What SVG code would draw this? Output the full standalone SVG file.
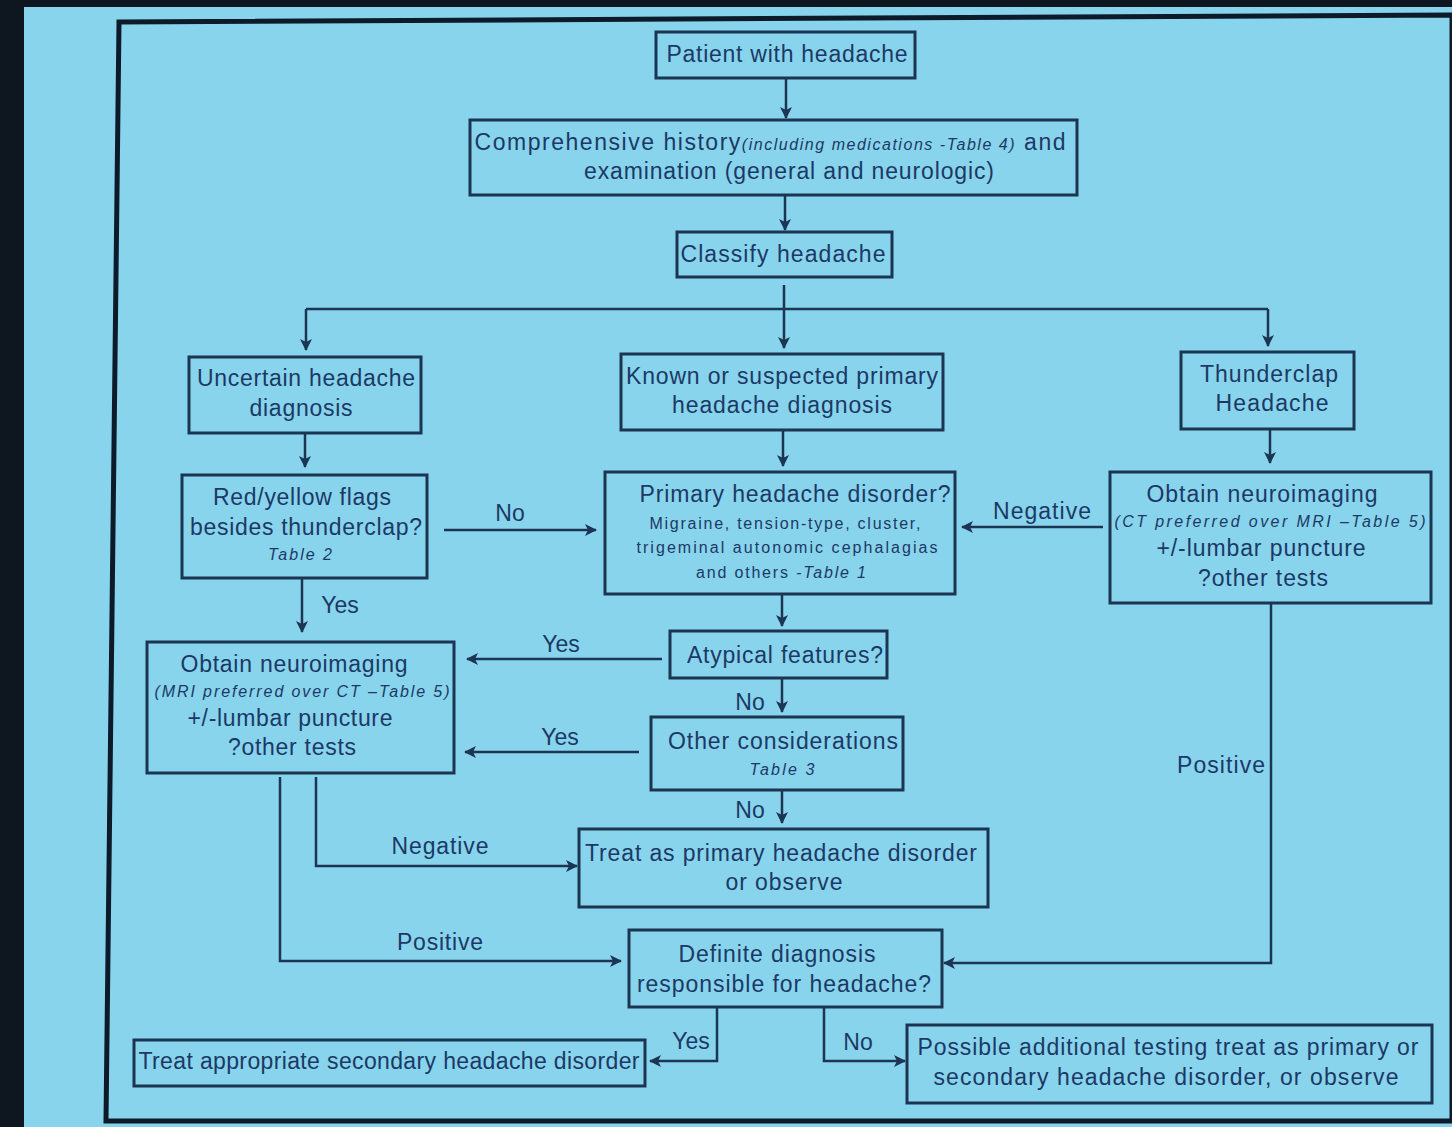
<svg xmlns="http://www.w3.org/2000/svg" width="1452" height="1127" viewBox="0 0 1452 1127">
<defs>
<style>
.bg{fill:#88d4ec}
.box{fill:none;stroke:#1b3553;stroke-width:3}
.t{font-family:"Liberation Sans",Arial,sans-serif;font-size:23px;fill:#1c3966;text-anchor:middle}
.s{font-family:"Liberation Sans",Arial,sans-serif;font-size:16px;font-style:italic;fill:#1c3966;text-anchor:middle}
.si{font-size:16px;font-style:italic}
.c{fill:none;stroke:#1b3553;stroke-width:2.5;marker-end:url(#ah)}
.l{fill:none;stroke:#1b3553;stroke-width:2.5}
</style>
<marker id="ah" viewBox="0 0 12 12" refX="11" refY="6" markerWidth="12" markerHeight="12" markerUnits="userSpaceOnUse" orient="auto">
<path d="M0,0 L12,6 L0,12 L3,6 z" fill="#1b3553"/>
</marker>
</defs>
<rect x="0" y="0" width="1452" height="1127" fill="#0e1620"/>
<rect class="bg" x="24" y="7" width="1428" height="1120"/>
<path d="M119,22 L1452,15 L1452,1121 L106,1121 Z" fill="#88d4ec" stroke="#0d1a2a" stroke-width="5"/>

<g id="connectors">
<path class="c" d="M786,78 V118"/>
<path class="c" d="M785,195 V230"/>
<path class="c" d="M784,285 V348"/>
<path class="l" d="M306,309 H1268"/>
<path class="c" d="M306,309 V350"/>
<path class="c" d="M1268,309 V346"/>
<path class="c" d="M305,433 V467"/>
<path class="c" d="M783,430 V466"/>
<path class="c" d="M1270,429 V463"/>
<path class="c" d="M444,530 H596"/>
<path class="c" d="M1103,527 H962"/>
<path class="c" d="M302,578 V632"/>
<path class="c" d="M782,594 V626"/>
<path class="c" d="M662,659 H467"/>
<path class="c" d="M782,678 V712"/>
<path class="c" d="M639,752 H465"/>
<path class="c" d="M782,790 V823"/>
<path class="c" d="M316,777 V866 H577"/>
<path class="c" d="M280,777 V961 H621"/>
<path class="c" d="M1271,603 V963 H944"/>
<path class="c" d="M717,1007 V1061 H650"/>
<path class="c" d="M824,1007 V1061 H905"/>
<text class="t" x="510" y="521">No</text>
<text class="t" x="1042" y="519" textLength="98">Negative</text>
<text class="t" x="340" y="613">Yes</text>
<text class="t" x="561" y="652">Yes</text>
<text class="t" x="750" y="710">No</text>
<text class="t" x="560" y="745">Yes</text>
<text class="t" x="750" y="818">No</text>
<text class="t" x="440" y="854" textLength="97">Negative</text>
<text class="t" x="440" y="950" textLength="86">Positive</text>
<text class="t" x="1221" y="773" textLength="88">Positive</text>
<text class="t" x="691" y="1049">Yes</text>
<text class="t" x="858" y="1050">No</text>
</g>

<g id="n1"><rect class="box" x="656" y="32" width="259" height="46"/>
<text class="t" x="787" y="62" textLength="241">Patient with headache</text></g>

<g id="n2"><rect class="box" x="470" y="120" width="607" height="75"/>
<text class="t" x="770" y="150" textLength="591">Comprehensive history<tspan class="si">(including medications -Table 4)</tspan> and</text>
<text class="t" x="789" y="179" textLength="410">examination (general and neurologic)</text></g>

<g id="n3"><rect class="box" x="677" y="232" width="215" height="45"/>
<text class="t" x="783" y="262" textLength="205">Classify  headache</text></g>

<g id="n4"><rect class="box" x="189" y="357" width="232" height="76"/>
<text class="t" x="306" y="386" textLength="218">Uncertain headache</text>
<text class="t" x="301" y="416" textLength="103">diagnosis</text></g>

<g id="n5"><rect class="box" x="621" y="354" width="322" height="76"/>
<text class="t" x="782" y="384" textLength="312">Known or suspected primary</text>
<text class="t" x="782" y="413" textLength="220">headache diagnosis</text></g>

<g id="n6"><rect class="box" x="1181" y="352" width="173" height="77"/>
<text class="t" x="1269" y="382" textLength="138">Thunderclap</text>
<text class="t" x="1272" y="411" textLength="113">Headache</text></g>

<g id="n7"><rect class="box" x="182" y="475" width="245" height="103"/>
<text class="t" x="302" y="505" textLength="178">Red/yellow flags</text>
<text class="t" x="306" y="535" textLength="232">besides thunderclap?</text>
<text class="s" x="300" y="560" textLength="64">Table 2</text></g>

<g id="n8"><rect class="box" x="605" y="472" width="350" height="122"/>
<text class="t" x="795" y="502" textLength="311">Primary headache disorder?</text>
<text class="s" x="785" y="529" textLength="271" style="font-style:normal">Migraine, tension-type, cluster,</text>
<text class="s" x="787" y="553" textLength="301" style="font-style:normal">trigeminal autonomic cephalagias</text>
<text class="s" x="781" y="578" textLength="170" style="font-style:normal">and others <tspan class="si">-Table 1</tspan></text></g>

<g id="n9"><rect class="box" x="1110" y="472" width="321" height="131"/>
<text class="t" x="1262" y="502" textLength="231">Obtain neuroimaging</text>
<text class="s" x="1270" y="527" textLength="311">(CT  preferred over MRI –Table 5)</text>
<text class="t" x="1261" y="556" textLength="209">+/-lumbar puncture</text>
<text class="t" x="1263" y="586" textLength="130">?other tests</text></g>

<g id="n10"><rect class="box" x="670" y="631" width="217" height="47"/>
<text class="t" x="785" y="663" textLength="196">Atypical features?</text></g>

<g id="n11"><rect class="box" x="147" y="642" width="307" height="131"/>
<text class="t" x="294" y="672" textLength="227">Obtain neuroimaging</text>
<text class="s" x="302" y="697" textLength="295">(MRI preferred over CT –Table 5)</text>
<text class="t" x="290" y="726" textLength="205">+/-lumbar puncture</text>
<text class="t" x="292" y="755" textLength="128">?other tests</text></g>

<g id="n12"><rect class="box" x="651" y="717" width="252" height="73"/>
<text class="t" x="783" y="749" textLength="230">Other considerations</text>
<text class="s" x="782" y="775" textLength="65">Table 3</text></g>

<g id="n13"><rect class="box" x="579" y="829" width="409" height="78"/>
<text class="t" x="781" y="861" textLength="392">Treat as primary headache disorder</text>
<text class="t" x="784" y="890" textLength="117">or observe</text></g>

<g id="n14"><rect class="box" x="629" y="930" width="313" height="77"/>
<text class="t" x="777" y="962" textLength="197">Definite diagnosis</text>
<text class="t" x="784" y="992" textLength="294">responsible for headache?</text></g>

<g id="n15"><rect class="box" x="134" y="1040" width="511" height="46"/>
<text class="t" x="389" y="1069" textLength="501">Treat appropriate secondary headache disorder</text></g>

<g id="n16"><rect class="box" x="907" y="1025" width="525" height="78"/>
<text class="t" x="1168" y="1055" textLength="501">Possible additional testing treat as primary or</text>
<text class="t" x="1166" y="1085" textLength="465">secondary headache disorder, or observe</text></g>
</svg>
